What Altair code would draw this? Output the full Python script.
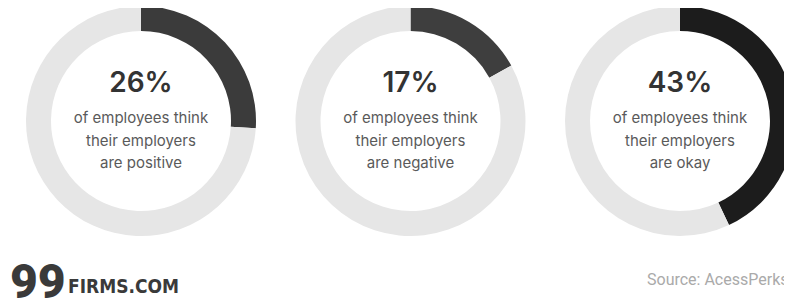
import altair as alt
import pandas as pd

# ---- data ----
panel_idx = [0, 1, 2]
percents = [26, 17, 43]
pct_labels = ["26%", "17%", "43%"]
line1 = ["of employees think", "of employees think", "of employees think"]
line2 = ["their employers", "their employers", "their employers"]
line3 = ["are positive", "are negative", "are okay"]
seg_keys = ["seg0", "seg1", "seg2", "rest"]
seg_colors = ["#3b3b3b", "#3e3e3e", "#1c1c1c", "#e6e6e6"]

rows = []
for i, p in zip(panel_idx, percents):
    rows.append({"idx": i, "key": seg_keys[i], "v": p, "ord": 0})
    rows.append({"idx": i, "key": "rest", "v": 100 - p, "ord": 1})
arc_df = pd.DataFrame(rows)

num_df = pd.DataFrame({"idx": panel_idx, "label": pct_labels})
line_rows = []
for i in panel_idx:
    for k, t in enumerate([line1[i], line2[i], line3[i]], start=1):
        line_rows.append({"idx": i, "row": k, "text": t})
line_df = pd.DataFrame(line_rows)

W, H = 776, 292
xscale = alt.Scale(domain=[0, 2], range=[133, 672])
color_scale = alt.Scale(domain=seg_keys, range=seg_colors)

arcs = alt.Chart(arc_df).transform_stack(
    stack="v", groupby=["idx"], as_=["t0", "t1"], sort=[alt.SortField("ord")]
).mark_arc(outerRadius=115, innerRadius=90).encode(
    x=alt.X("idx:Q", scale=xscale, axis=None, stack=None),
    y=alt.value(113),
    theta=alt.Theta("t0:Q", scale=alt.Scale(domain=[0, 100]), stack=None),
    theta2="t1:Q",
    color=alt.Color("key:N", scale=color_scale, legend=None),
)

nums = alt.Chart(num_df).mark_text(
    font="Inter", fontSize=28, fontWeight=600, color="#333333", baseline="middle", align="center"
).encode(
    x=alt.X("idx:Q", scale=xscale, axis=None, stack=None),
    y=alt.value(76),
    text="label:N",
)

lines = alt.Chart(line_df).mark_text(
    font="Inter", fontSize=15, color="#5a5a5a", baseline="middle", align="center"
).encode(
    x=alt.X("idx:Q", scale=xscale, axis=None, stack=None),
    y=alt.Y("row:Q", scale=alt.Scale(domain=[1, 3], range=[110, 155]), axis=None),
    text="text:N",
)

logo_df = pd.DataFrame({"t": ["99"]})
logo99 = alt.Chart(logo_df).mark_text(
    font="Roboto", fontSize=48, fontWeight=900, color="#3a3a3a", align="left", baseline="alphabetic"
).encode(x=alt.value(2), y=alt.value(290), text="t:N")

firms_df = pd.DataFrame({"t": ["FIRMS.COM"]})
firms = alt.Chart(firms_df).mark_text(
    font="DejaVu Sans Condensed", fontSize=19, fontWeight="bold", color="#3a3a3a", align="left", baseline="alphabetic"
).encode(x=alt.value(60), y=alt.value(285), text="t:N")

src_df = pd.DataFrame({"t": ["Source: AcessPerks"]})
src = alt.Chart(src_df).mark_text(
    font="Roboto", fontSize=16, color="#aaaaaa", align="left", baseline="alphabetic"
).encode(x=alt.value(639), y=alt.value(277), text="t:N")

chart = alt.layer(arcs, nums, lines, logo99, firms, src).properties(
    width=W, height=H, autosize=alt.AutoSizeParams(type="none"), padding=0
).configure_view(stroke=None)

chart.save("out.html", embed_options={"renderer": "svg", "actions": False})
